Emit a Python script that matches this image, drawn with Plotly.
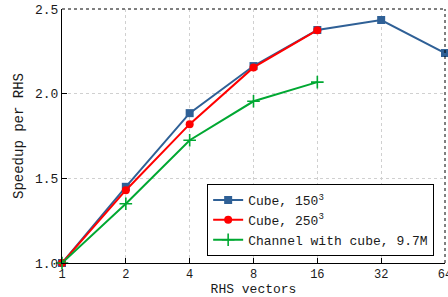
import plotly.graph_objects as go
import math

rhs = [1, 2, 4, 8, 16, 32, 64]
cube150 = [1.0, 1.45, 1.885, 2.163, 2.376, 2.435, 2.24]
rhs250 = [1, 2, 4, 8, 16]
cube250 = [1.0, 1.43, 1.82, 2.155, 2.375]
rhs_ch = [1, 2, 4, 8, 16]
channel = [1.0, 1.35, 1.725, 1.955, 2.068]
xticks = [1, 2, 4, 8, 16, 32, 64]
yticks = [1.0, 1.5, 2.0, 2.5]

FONT = "Liberation Mono"

fig = go.Figure()
fig.add_trace(go.Scatter(x=rhs, y=cube150, name="Cube, 150<sup>3</sup>", mode="lines+markers",
                         line=dict(color="#2f6096", width=2), marker=dict(symbol="square", size=8, color="#2f6096"),
                         cliponaxis=False))
fig.add_trace(go.Scatter(x=rhs250, y=cube250, name="Cube, 250<sup>3</sup>", mode="lines+markers",
                         line=dict(color="#ff0000", width=2), marker=dict(symbol="circle", size=8, color="#ff0000"),
                         cliponaxis=False))
fig.add_trace(go.Scatter(x=rhs_ch, y=channel, name="Channel with cube, 9.7M", mode="lines+markers",
                         line=dict(color="#00a832", width=2),
                         marker=dict(symbol="cross-thin", size=9, line=dict(color="#00a832", width=1.6)),
                         cliponaxis=False))

fig.update_layout(
    width=448, height=297,
    margin=dict(l=62, r=3, t=9, b=34, autoexpand=False),
    paper_bgcolor="white", plot_bgcolor="white",
    font=dict(family=FONT, size=13, color="#1a1a1a"),
    showlegend=True,
    legend=dict(x=0.379, y=0.311, xanchor="left", yanchor="top", bordercolor="black", borderwidth=1,
                bgcolor="white", font=dict(family=FONT, size=13), tracegroupgap=0),
    xaxis=dict(type="log", range=[0, math.log10(64)], tickvals=xticks, ticktext=[str(v) for v in xticks],
               showline=True, linecolor="black", linewidth=1, ticks="inside", ticklen=5, tickcolor="black",
               showgrid=True, gridcolor="#d0d0d0", griddash="dot", gridwidth=1, zeroline=False,
               tickfont=dict(size=12), ticklabeloverflow="allow",
               title=dict(text="RHS vectors", standoff=2, font=dict(family=FONT, size=13))),
    yaxis=dict(range=[1.0, 2.5], tickvals=yticks, tickformat=".1f",
               showline=True, linecolor="black", linewidth=1, ticks="inside", ticklen=5, tickcolor="black",
               showgrid=True, gridcolor="#d0d0d0", griddash="dot", gridwidth=1, zeroline=False,
               tickfont=dict(size=13), ticklabeloverflow="allow",
               title=dict(text="Speedup per RHS", standoff=8, font=dict(family=FONT, size=14))),
    shapes=[
        dict(type="line", xref="paper", yref="paper", x0=0, x1=1, y0=1, y1=1,
             line=dict(color="black", width=1, dash="dot")),
        dict(type="line", xref="paper", yref="paper", x0=1, x1=1, y0=0, y1=1,
             line=dict(color="black", width=1, dash="dot")),
    ],
)

fig.write_html("out.html", config={"displayModeBar": False},
               post_script="document.body.style.margin='0';")
